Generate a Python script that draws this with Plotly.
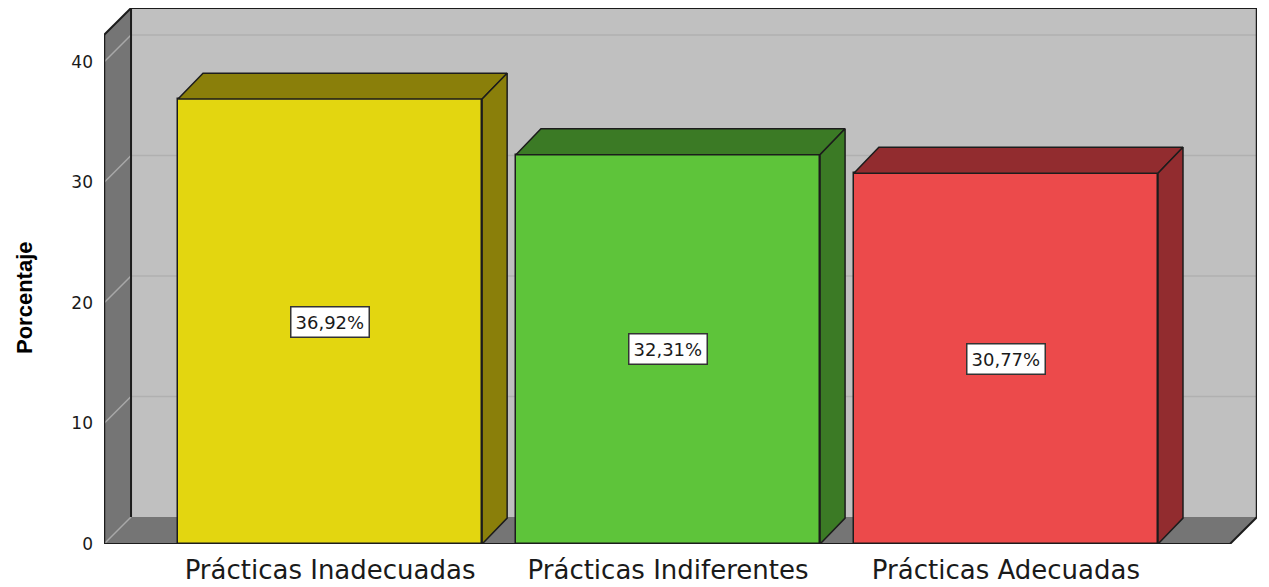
import plotly.graph_objects as go

# ---- data ----
categories = ["Prácticas Inadecuadas", "Prácticas Indiferentes", "Prácticas Adecuadas"]
values = [36.92, 32.31, 30.77]
value_labels = ["36,92%", "32,31%", "30,77%"]
front_colors = ["#e3d610", "#5ec43a", "#ec4a4b"]
shade_colors = ["#8a7f0a", "#3b7a25", "#922c2f"]
y_ticks = [0, 10, 20, 30, 40]
y_title = "Porcentaje"

# ---- geometry constants (axis units) ----
X_MIN, X_MAX = -0.669, 2.743
Y_MAX = 44.48
WDX, WDY = 0.08, 2.24      # wall depth
BDX, BDY = 0.074, 2.15     # bar depth
BAR_W = 0.900
HW = BAR_W / 2
EDGE = "#1c1c1c"

Xb0 = X_MIN + WDX
Y_TOP_FRONT = Y_MAX - WDY

shapes = []

def poly(pts, fill, line_color=None, width=0):
    path = "M " + " L ".join(f"{x},{y}" for x, y in pts) + " Z"
    shapes.append(dict(type="path", path=path, xref="x", yref="y", fillcolor=fill,
                       line=dict(color=line_color or fill, width=width), layer="below"))

def seg(x0, y0, x1, y1, color, width):
    shapes.append(dict(type="line", x0=x0, y0=y0, x1=x1, y1=y1, xref="x", yref="y",
                       line=dict(color=color, width=width), layer="below"))

# back wall
poly([(Xb0, WDY), (Xb0, Y_MAX), (X_MAX, Y_MAX), (X_MAX, WDY)], "#c0c0c0")
# left wall
poly([(X_MIN, 0), (X_MIN, Y_TOP_FRONT), (Xb0, Y_MAX), (Xb0, WDY)], "#757575")
# floor
poly([(X_MIN, 0), (Xb0, WDY), (X_MAX, WDY), (X_MAX - WDX, 0)], "#757575")

# gridlines
for v in y_ticks:
    if v > 0:
        seg(Xb0, v + WDY, X_MAX, v + WDY, "#b0b0b0", 1.5)
    seg(X_MIN, v, Xb0, v + WDY, "#a8a8a8", 1.5)

# wall edges
seg(X_MIN, 0, X_MIN, Y_TOP_FRONT, EDGE, 2.5)
seg(X_MIN, Y_TOP_FRONT, Xb0, Y_MAX, EDGE, 2)
seg(Xb0, Y_MAX, X_MAX, Y_MAX, EDGE, 2)
seg(X_MAX, Y_MAX, X_MAX, WDY, EDGE, 2.5)
seg(X_MAX, WDY, X_MAX - WDX, 0, EDGE, 2)
seg(X_MIN, 0, X_MAX - WDX, 0, EDGE, 2)
seg(Xb0, WDY, Xb0, Y_MAX, EDGE, 2)

fig = go.Figure()

# bar fronts
fig.add_trace(go.Bar(
    x=list(range(len(categories))), y=values, width=BAR_W,
    marker=dict(color=front_colors, line=dict(color=EDGE, width=1.5)),
    hoverinfo="skip", showlegend=False))

# bar tops and sides
for i, v in enumerate(values):
    l, r = i - HW, i + HW
    top_x = [l, l + BDX, r + BDX, r, l]
    top_y = [v, v + BDY, v + BDY, v, v]
    side_x = [r, r, r + BDX, r + BDX, r]
    side_y = [0, v, v + BDY, BDY, 0]
    for xs, ys in ((top_x, top_y), (side_x, side_y)):
        fig.add_trace(go.Scatter(
            x=xs, y=ys, mode="lines", fill="toself", fillcolor=shade_colors[i],
            line=dict(color=EDGE, width=1.5), hoverinfo="skip", showlegend=False))

annotations = []
for i, (v, t) in enumerate(zip(values, value_labels)):
    annotations.append(dict(
        x=i, y=v / 2, xref="x", yref="y", text=t, showarrow=False,
        font=dict(family="DejaVu Sans", size=18, color="#1a1a1a"),
        bgcolor="white", bordercolor="#333333", borderwidth=1.5, borderpad=4))

annotations.append(dict(
    x=-0.0685, y=0.459, xref="paper", yref="paper", text=y_title, showarrow=False,
    textangle=-90, font=dict(family="Liberation Sans", size=22, color="black", weight="bold"),
    xanchor="center", yanchor="middle"))

fig.update_layout(
    width=1269, height=587,
    margin=dict(l=104, r=12, t=8, b=43),
    paper_bgcolor="white", plot_bgcolor="white",
    shapes=shapes, annotations=annotations,
    bargap=0,
    xaxis=dict(range=[X_MIN, X_MAX], tickvals=list(range(len(categories))),
               ticktext=categories, showgrid=False, zeroline=False, showline=False,
               ticks="", ticklabelstandoff=8, automargin=False,
               tickfont=dict(family="DejaVu Sans", size=26, color="#1a1a1a")),
    yaxis=dict(range=[0, Y_MAX], tickvals=y_ticks, showgrid=False, zeroline=False,
               showline=False, ticks="", ticklabelstandoff=10, automargin=False,
               tickfont=dict(family="DejaVu Sans", size=17, color="#1a1a1a")),
)

fig.write_html("out.html")
